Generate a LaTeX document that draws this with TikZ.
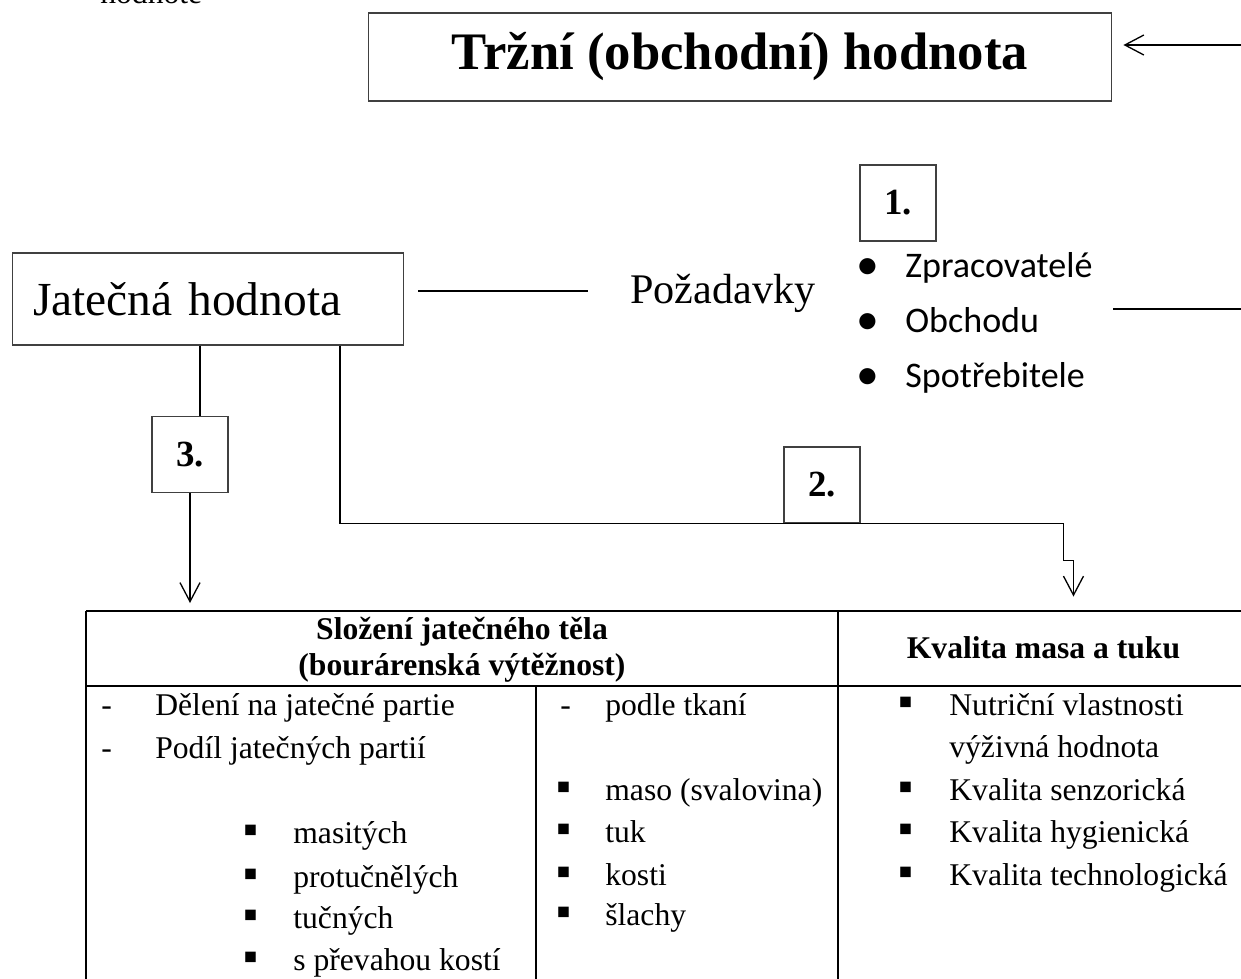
\documentclass[tikz,border=0pt]{standalone}
\usepackage{fontspec}
\setmainfont{Liberation Serif}
\newfontfamily\calib{Carlito}
\usetikzlibrary{arrows.meta}
\begin{document}
\begin{tikzpicture}[x=0.02cm,y=-0.02cm,
  box/.style={draw=black!75,line width=0.6pt},
  ln/.style={line width=0.75pt},
  arr/.style={line width=0.75pt,-{Straight Barb[length=3.8mm,width=4mm]}},
  txt/.style={anchor=base west,inner sep=0pt,font=\fontsize{18}{21}\selectfont},
  sq/.style={anchor=base,inner sep=0pt,font=\fontsize{24}{24}\selectfont},
  head/.style={anchor=base,inner sep=0pt,font=\bfseries\fontsize{18}{21}\selectfont},
  num/.style={box,minimum width=1.52cm,minimum height=1.52cm,inner sep=0pt,font=\bfseries\fontsize{21}{21}\selectfont},
  bl/.style={anchor=base west,inner sep=0pt,font=\calib\fontsize{20.5}{24}\selectfont}]
\useasboundingbox (0,0) rectangle (1241,978);
\node[txt] (oben) at (100,3) {hodnote};
\node[box,minimum width=14.88cm,minimum height=1.76cm,font=\bfseries\fontsize{30}{30}\selectfont] (trzni) at (740,57) {Tržní (obchodní) hodnota};
\coordinate (ein) at (1245,45);
\draw[arr,shorten >=0.22cm] (ein) -- (ein -| trzni.east);
\node[box,minimum height=1.84cm,text width=7cm,inner xsep=0.42cm,align=left,font=\fontsize{27}{27}\selectfont] (jat) at (208,299) {Jatečná hodnota};
\node[txt,font=\fontsize{24}{24}\selectfont] (poz) at (630,303) {Požadavky};
\draw[ln] (jat.east) ++(14,-8) -- ++(170,0);
\node[num] (c1) at (898,203) {1.};
\node[bl,anchor=base,font=\calib\fontsize{26}{26}\selectfont] (d1) at (868,279) {•};
\node[bl,anchor=base,font=\calib\fontsize{26}{26}\selectfont] (d2) at (868,334) {•};
\node[bl,anchor=base,font=\calib\fontsize{26}{26}\selectfont] (d3) at (868,389) {•};
\node[bl] (b1) at (905,277) {Zpracovatelé};
\node[bl] (b2) at (905,332) {Obchodu};
\node[bl] (b3) at (905,387) {Spotřebitele};
\coordinate (aus) at (1245,309);
\draw[ln] (aus) -- ++(-132,0);
\node[num] (c3) at (190,454.5) {3.};
\node[num] (c2) at (822,485) {2.};
\draw[ln] ([shift={(-8,0)}]jat.south) -- ([shift={(-8,0)}]jat.south |- c3.north);
\coordinate (tab) at (86,611);
\draw[arr,shorten >=0.16cm] (c3.south) -- (c3.south |- tab);
\draw[arr] ([shift={(132,0)}]jat.south) |- (c2.south west) -- ++(280,0) -- ++(0,37) -- ++(10,0) -- ++(0,36);
\draw[line width=1.1pt] (tab) -- (1250,611);
\draw[line width=0.8pt] (86,686) -- (1250,686);
\draw[line width=0.8pt] (tab) -- (86,990);
\draw[line width=0.8pt] (838,611) -- (838,990);
\draw[line width=0.8pt] (536,686) -- (536,990);
\node[head] (k1) at (462,639) {Složení jatečného těla};
\node[head] (k2) at (462,675) {(bourárenská výtěžnost)};
\node[head] (k3) at (1043.5,658) {Kvalita masa a tuku};
\node[txt] (m1) at (101,715) {-};
\node[txt] (m2) at (101,758) {-};
\node[txt] (a1) at (155,715) {Dělení na jatečné partie};
\node[txt] (a2) at (155,758) {Podíl jatečných partií};
\node[sq] (q1) at (251,843) {▪};
\node[sq] (q2) at (251,887) {▪};
\node[sq] (q3) at (251,928) {▪};
\node[sq] (q4) at (251,970) {▪};
\node[txt] (a3) at (293,843) {masitých};
\node[txt] (a4) at (293,887) {protučnělých};
\node[txt] (a5) at (293,928) {tučných};
\node[txt] (a6) at (293,970) {s převahou kostí};
\node[txt] (m3) at (560,715) {-};
\node[txt] (t1) at (605,715) {podle tkaní};
\node[sq] (q5) at (564,800) {▪};
\node[sq] (q6) at (564,842) {▪};
\node[sq] (q7) at (564,885) {▪};
\node[sq] (q8) at (564,925) {▪};
\node[txt] (t2) at (605,800) {maso (svalovina)};
\node[txt] (t3) at (605,842) {tuk};
\node[txt] (t4) at (605,885) {kosti};
\node[txt] (t5) at (605,925) {šlachy};
\node[sq] (q9) at (906,715) {▪};
\node[sq] (q10) at (906,800) {▪};
\node[sq] (q11) at (906,842) {▪};
\node[sq] (q12) at (906,885) {▪};
\node[txt] (n1) at (949,715) {Nutriční vlastnosti};
\node[txt] (n2) at (949,757) {výživná hodnota};
\node[txt] (n3) at (949,800) {Kvalita senzorická};
\node[txt] (n4) at (949,842) {Kvalita hygienická};
\node[txt] (n5) at (949,885) {Kvalita technologická};
\end{tikzpicture}
\end{document}
